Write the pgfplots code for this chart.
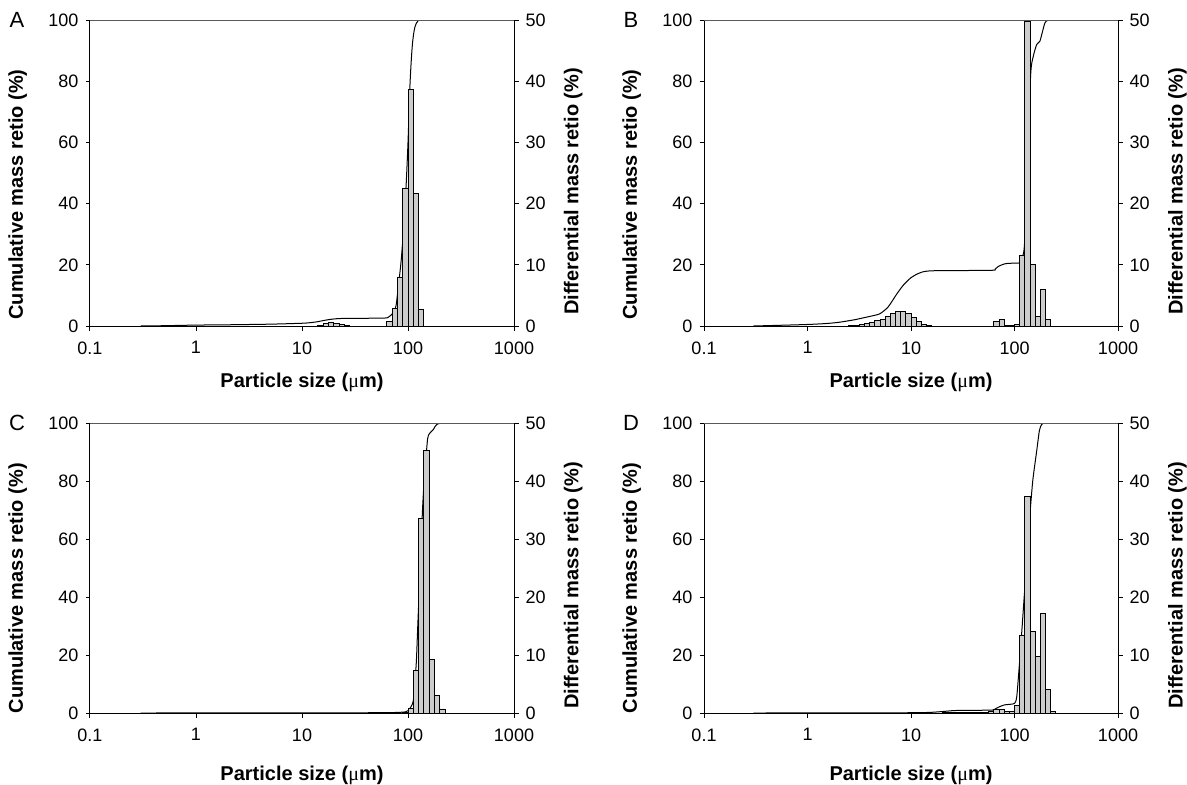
\documentclass[border=0pt]{standalone}
\usepackage{fontspec}
\setmainfont{Liberation Sans}
\newfontfamily\symfont{Liberation Serif}
\usepackage{pgfplots}
\pgfplotsset{compat=1.18}

\begin{document}
\begin{tikzpicture}
\useasboundingbox (0,0) rectangle (593.5pt,392pt);
% 1 px of the reference = 0.5pt

% ---------- A ----------
\begin{axis}[scale only axis, at={(45pt,229pt)}, anchor=south west, width=212pt, height=153pt,
  xmode=log, xmin=0.1, xmax=1000, ymin=0, ymax=100,
  xtick={0.1,1,10,100,1000}, xticklabels={0.1,1,10,100,1000}, ytick={0,20,40,60,80,100},
  xminorticks=false, tick align=outside, major tick length=2.25pt,
  axis x line*=bottom, axis y line*=left,
  axis line style={line width=0.5pt}, major tick style={black, line width=0.5pt},
  tick label style={font=\fontsize{9}{10}\selectfont},
  xticklabel style={yshift=-2pt},
  label style={font=\bfseries\fontsize{10}{12}\selectfont},
  /pgf/number format/assume math mode=true,
  xlabel={Particle size ({\symfont\mdseries μ}m)}, ylabel={Cumulative mass retio (\%)},
  ylabel style={at={(axis description cs:-0.132,0.43)}, anchor=south},
  xlabel style={at={(axis description cs:0.5,-0.131)}, anchor=north}]
\addplot[black, line width=0.5pt, smooth, tension=0.4] coordinates {
(0.3,0)(0.5,0.1)(1,0.3)(2,0.4)(5,0.6)(10,0.9)(12,1.1)(14,1.4)(16,1.8)(18,2.1)(20,2.3)(23,2.45)(30,2.5)(60,2.6)(66,3.0)(72,4.2)(77,6.5)(81,12.8)(86,21)(91,32)(96,46)(100,60)(104,77.5)(107,86)(110,92)(113,95.5)(116,97.6)(120,99)(124,99.6)(130,100)(257,100)
};
\draw[black!65, line width=0.6pt] (rel axis cs:0,1) -- (rel axis cs:1,1);
\end{axis}
\begin{axis}[scale only axis, at={(45pt,229pt)}, anchor=south west, width=212pt, height=153pt,
  xmode=log, xmin=0.1, xmax=1000, ymin=0, ymax=50, ytick={0,10,20,30,40,50},
  axis x line=none, axis y line*=right, tick align=outside, major tick length=2.25pt,
  axis line style={line width=0.5pt}, major tick style={black, line width=0.5pt},
  tick label style={font=\fontsize{9}{10}\selectfont},
  label style={font=\bfseries\fontsize{10}{12}\selectfont},
  /pgf/number format/assume math mode=true,
  ylabel={Differential mass retio (\%)},
  ylabel style={at={(axis description cs:1.101,0.44)}, anchor=north}]
\addplot[ybar interval, fill=gray!40, draw=black, line width=0.45pt] coordinates {
(14.13,0.15)(15.85,0.35)(17.78,0.5)(19.95,0.45)(22.39,0.3)(25.12,0.1)(28.18,0)(31.62,0)(35.48,0)(39.81,0)(44.67,0)(50.12,0)(56.23,0)(63.10,0.7)(70.79,2.9)(79.43,7.9)(89.13,22.4)(100,38.6)(112.2,21.6)(125.9,2.7)(141.3,0)
};
\end{axis}

% ---------- B ----------
\begin{axis}[scale only axis, at={(352pt,229pt)}, anchor=south west, width=207pt, height=153pt,
  xmode=log, xmin=0.1, xmax=1000, ymin=0, ymax=100,
  xtick={0.1,1,10,100,1000}, xticklabels={0.1,1,10,100,1000}, ytick={0,20,40,60,80,100},
  xminorticks=false, tick align=outside, major tick length=2.25pt,
  axis x line*=bottom, axis y line*=left,
  axis line style={line width=0.5pt}, major tick style={black, line width=0.5pt},
  tick label style={font=\fontsize{9}{10}\selectfont},
  xticklabel style={yshift=-2pt},
  label style={font=\bfseries\fontsize{10}{12}\selectfont},
  /pgf/number format/assume math mode=true,
  xlabel={Particle size ({\symfont\mdseries μ}m)}, ylabel={Cumulative mass retio (\%)},
  ylabel style={at={(axis description cs:-0.135,0.43)}, anchor=south},
  xlabel style={at={(axis description cs:0.5,-0.131)}, anchor=north}]
\addplot[black, line width=0.5pt, smooth, tension=0.4] coordinates {
(0.3,0)(0.5,0.2)(1,0.5)(1.5,0.8)(2,1.2)(2.8,2.0)(3.5,2.7)(4.2,3.3)(5,4.0)(6,6.2)(7.3,10.5)(8.5,13.5)(10,15.8)(11.5,17.0)(13,17.7)(15,18.0)(20,18.1)(60,18.2)(65,18.6)(70,19.5)(80,20.3)(90,20.5)(110,20.6)(117,21.6)(124.5,26)(131,45.6)(143,81.7)(152,88.2)(164,92)(176,93.1)(187,96.4)(197,99.1)(212,100)(256,100)
};
\draw[black!65, line width=0.6pt] (rel axis cs:0,1) -- (rel axis cs:1,1);
\end{axis}
\begin{axis}[scale only axis, at={(352pt,229pt)}, anchor=south west, width=207pt, height=153pt,
  xmode=log, xmin=0.1, xmax=1000, ymin=0, ymax=50, ytick={0,10,20,30,40,50},
  axis x line=none, axis y line*=right, tick align=outside, major tick length=2.25pt,
  axis line style={line width=0.5pt}, major tick style={black, line width=0.5pt},
  tick label style={font=\fontsize{9}{10}\selectfont},
  label style={font=\bfseries\fontsize{10}{12}\selectfont},
  /pgf/number format/assume math mode=true,
  ylabel={Differential mass retio (\%)},
  ylabel style={at={(axis description cs:1.104,0.44)}, anchor=north}]
\addplot[ybar interval, fill=gray!40, draw=black, line width=0.45pt] coordinates {
(2.512,0.05)(2.818,0.1)(3.162,0.2)(3.548,0.4)(3.981,0.6)(4.467,0.85)(5.012,1.1)(5.623,1.5)(6.310,2.1)(7.079,2.3)(7.943,2.3)(8.913,2.0)(10,1.4)(11.22,0.8)(12.59,0.3)(14.13,0.1)(15.85,0)(17.78,0)(19.95,0)(22.39,0)(25.12,0)(28.18,0)(31.62,0)(35.48,0)(39.81,0)(44.67,0)(50.12,0)(56.23,0)(63.10,0.7)(70.79,1.1)(79.43,0.1)(89.13,0.1)(100,0.2)(112.2,11.5)(125.9,49.8)(141.3,10.0)(158.5,1.5)(177.8,5.9)(199.5,1.0)(223.9,0)
};
\end{axis}

% ---------- C ----------
\begin{axis}[scale only axis, at={(45pt,35.5pt)}, anchor=south west, width=212pt, height=145pt,
  xmode=log, xmin=0.1, xmax=1000, ymin=0, ymax=100,
  xtick={0.1,1,10,100,1000}, xticklabels={0.1,1,10,100,1000}, ytick={0,20,40,60,80,100},
  xminorticks=false, tick align=outside, major tick length=2.25pt,
  axis x line*=bottom, axis y line*=left,
  axis line style={line width=0.5pt}, major tick style={black, line width=0.5pt},
  tick label style={font=\fontsize{9}{10}\selectfont},
  xticklabel style={yshift=-2pt},
  label style={font=\bfseries\fontsize{10}{12}\selectfont},
  /pgf/number format/assume math mode=true,
  xlabel={Particle size ({\symfont\mdseries μ}m)}, ylabel={Cumulative mass retio (\%)},
  ylabel style={at={(axis description cs:-0.132,0.43)}, anchor=south},
  xlabel style={at={(axis description cs:0.5,-0.16)}, anchor=north}]
\addplot[black, line width=0.5pt, smooth, tension=0.4] coordinates {
(0.3,0)(10,0.05)(50,0.1)(80,0.2)(95,0.4)(100,0.8)(106,2)(112,4)(116,10)(120,18)(123,28)(130,50)(137,70)(143,82)(150,91)(153,94.5)(157,96)(163,96.8)(173,97.7)(180,98.8)(187,99.5)(200,99.9)(210,100)(257,100)
};
\draw[black!65, line width=0.6pt] (rel axis cs:0,1) -- (rel axis cs:1,1);
\end{axis}
\begin{axis}[scale only axis, at={(45pt,35.5pt)}, anchor=south west, width=212pt, height=145pt,
  xmode=log, xmin=0.1, xmax=1000, ymin=0, ymax=50, ytick={0,10,20,30,40,50},
  axis x line=none, axis y line*=right, tick align=outside, major tick length=2.25pt,
  axis line style={line width=0.5pt}, major tick style={black, line width=0.5pt},
  tick label style={font=\fontsize{9}{10}\selectfont},
  label style={font=\bfseries\fontsize{10}{12}\selectfont},
  /pgf/number format/assume math mode=true,
  ylabel={Differential mass retio (\%)},
  ylabel style={at={(axis description cs:1.101,0.44)}, anchor=north}]
\addplot[ybar interval, fill=gray!40, draw=black, line width=0.45pt] coordinates {
(89.13,0.1)(100,0.75)(112.2,7.4)(125.9,33.6)(141.3,45.3)(158.5,9.2)(177.8,3.0)(199.5,0.7)(223.9,0)
};
\end{axis}

% ---------- D ----------
\begin{axis}[scale only axis, at={(352pt,35.5pt)}, anchor=south west, width=207pt, height=145pt,
  xmode=log, xmin=0.1, xmax=1000, ymin=0, ymax=100,
  xtick={0.1,1,10,100,1000}, xticklabels={0.1,1,10,100,1000}, ytick={0,20,40,60,80,100},
  xminorticks=false, tick align=outside, major tick length=2.25pt,
  axis x line*=bottom, axis y line*=left,
  axis line style={line width=0.5pt}, major tick style={black, line width=0.5pt},
  tick label style={font=\fontsize{9}{10}\selectfont},
  xticklabel style={yshift=-2pt},
  label style={font=\bfseries\fontsize{10}{12}\selectfont},
  /pgf/number format/assume math mode=true,
  xlabel={Particle size ({\symfont\mdseries μ}m)}, ylabel={Cumulative mass retio (\%)},
  ylabel style={at={(axis description cs:-0.135,0.43)}, anchor=south},
  xlabel style={at={(axis description cs:0.5,-0.16)}, anchor=north}]
\addplot[black, line width=0.5pt, smooth, tension=0.4] coordinates {
(0.3,0)(5,0.05)(10,0.1)(15,0.2)(20,0.5)(25,0.8)(30,0.9)(60,1.0)(65,1.4)(72,2.2)(80,2.8)(90,3.0)(100,3.3)(105,5.5)(111,15.9)(117,27)(124,40)(130,50)(135,60)(139,66)(150,80)(164,90.5)(174,97.4)(183,99.5)(197,100)(256,100)
};
\draw[black!65, line width=0.6pt] (rel axis cs:0,1) -- (rel axis cs:1,1);
\end{axis}
\begin{axis}[scale only axis, at={(352pt,35.5pt)}, anchor=south west, width=207pt, height=145pt,
  xmode=log, xmin=0.1, xmax=1000, ymin=0, ymax=50, ytick={0,10,20,30,40,50},
  axis x line=none, axis y line*=right, tick align=outside, major tick length=2.25pt,
  axis line style={line width=0.5pt}, major tick style={black, line width=0.5pt},
  tick label style={font=\fontsize{9}{10}\selectfont},
  label style={font=\bfseries\fontsize{10}{12}\selectfont},
  /pgf/number format/assume math mode=true,
  ylabel={Differential mass retio (\%)},
  ylabel style={at={(axis description cs:1.104,0.44)}, anchor=north}]
\addplot[ybar interval, fill=gray!40, draw=black, line width=0.45pt] coordinates {
(19.95,0.05)(22.39,0.1)(25.12,0.15)(28.18,0.1)(31.62,0.1)(35.48,0.05)(39.81,0.05)(44.67,0.05)(50.12,0.1)(56.23,0.2)(63.10,0.55)(70.79,0.7)(79.43,0.3)(89.13,0.2)(100,1.3)(112.2,13.4)(125.9,37.4)(141.3,14.0)(158.5,9.8)(177.8,17.1)(199.5,4.0)(223.9,0.2)(251.2,0)
};
\end{axis}

% panel letters
\node[font=\fontsize{11}{13}\selectfont] at (8.5pt,382pt) {A};
\node[font=\fontsize{11}{13}\selectfont] at (315.5pt,382pt) {B};
\node[font=\fontsize{11}{13}\selectfont] at (8.5pt,180.5pt) {C};
\node[font=\fontsize{11}{13}\selectfont] at (315.5pt,180.5pt) {D};
\end{tikzpicture}
\end{document}
